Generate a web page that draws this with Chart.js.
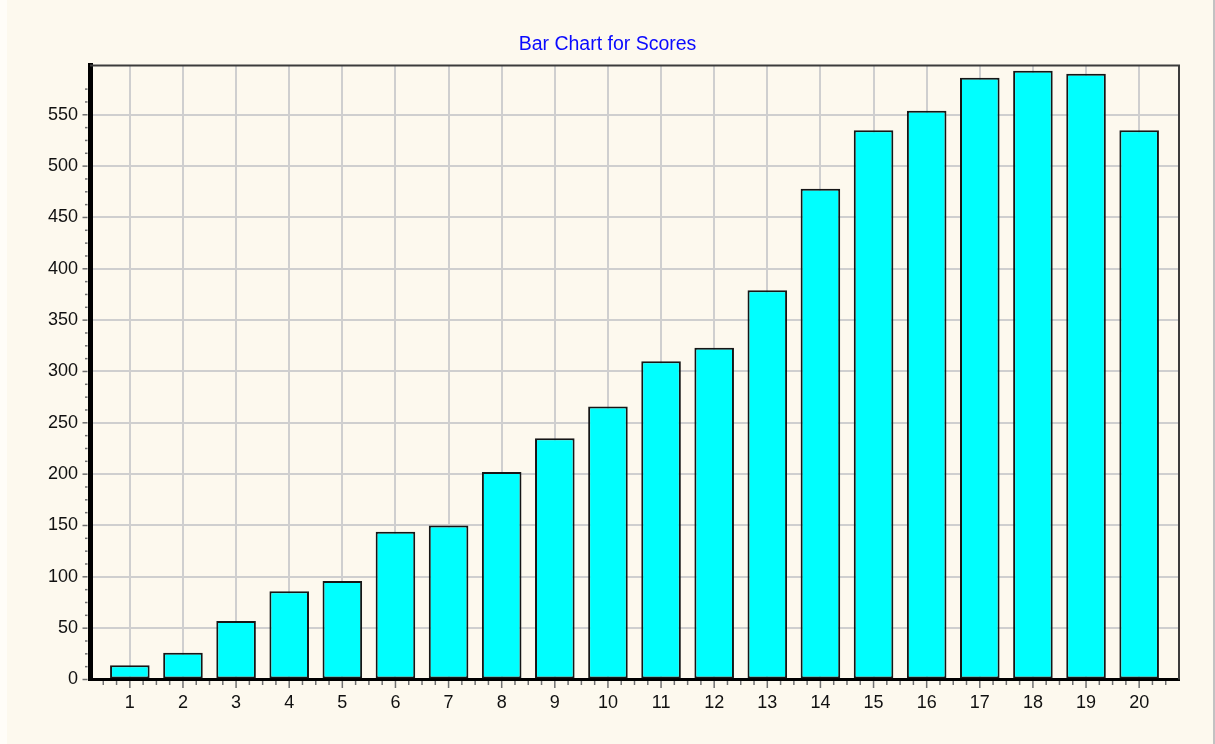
<!DOCTYPE html>
<html>
<head>
<meta charset="utf-8">
<script src="https://cdn.jsdelivr.net/npm/chart.js@4.4.0/dist/chart.umd.min.js"></script>
<style>
  html, body { margin: 0; padding: 0; background: #fdf9ee; }
  #wrap { position: relative; width: 1215px; height: 744px; background: #fdf9ee; overflow: hidden; }
  #wrap canvas { position: absolute; left: 0; top: 0; }
  #edgeR { position: absolute; left: 1213px; top: 0; width: 2px; height: 744px; background: #c2c2c2; }
  #edgeL { position: absolute; left: 0; top: 0; width: 7px; height: 744px; background: #fffdf8; }
</style>
</head>
<body>
<div id="wrap">
  <canvas id="c" width="1215" height="744"></canvas>
  <div id="edgeL"></div>
  <div id="edgeR"></div>
</div>
<script>
// ---- data ----
const categories = ['1','2','3','4','5','6','7','8','9','10','11','12','13','14','15','16','17','18','19','20'];
const scores = [14, 26, 57, 86, 96, 144, 150, 202, 235, 266, 310, 323, 379, 478, 535, 554, 586, 593, 590, 535];
const titleText = 'Bar Chart for Scores';
const yMin = 0;
const yMax = 598;
const yMajorStep = 50;
const yMinorStep = 12.5;
const xMin = 0.25;
const xMax = 20.75;
const xMinorStep = 0.25;

// ---- styles ----
const FONT = '"Liberation Sans", Arial, sans-serif';
const gridColor = '#cfcfcf';
const none = 'rgba(0,0,0,0)';

function isInt(v) { return Math.abs(v - Math.round(v)) < 1e-6; }
function isXMajor(v) { return isInt(v) && v >= 1 && v <= categories.length; }
function isYMajor(v) { return Math.abs(v / yMajorStep - Math.round(v / yMajorStep)) < 1e-6; }
function isYMinor(v) { return Math.abs(v / yMinorStep - Math.round(v / yMinorStep)) < 1e-6; }

const frameAndTicks = {
  id: 'frameAndTicks',
  afterDraw(chart) {
    const { ctx, chartArea: a, scales: { x, y } } = chart;
    ctx.save();
    // top and right frame
    ctx.strokeStyle = '#3c3c3c';
    ctx.lineWidth = 2;
    ctx.beginPath();
    ctx.moveTo(a.left, a.top);
    ctx.lineTo(a.right, a.top);
    ctx.lineTo(a.right, a.bottom);
    ctx.stroke();
    // y tick marks
    ctx.strokeStyle = '#707070';
    ctx.lineWidth = 1.5;
    y.ticks.forEach(t => {
      if (!isYMinor(t.value)) return;
      const p = y.getPixelForValue(t.value);
      const len = isYMajor(t.value) ? 5 : 2.5;
      ctx.beginPath();
      ctx.moveTo(a.left - 2.5, p);
      ctx.lineTo(a.left - 2.5 - len, p);
      ctx.stroke();
    });
    // x tick marks (major at categories, minor every quarter)
    const n = Math.round((xMax - xMin) / xMinorStep);
    for (let i = 1; i < n; i++) {
      const v = xMin + i * xMinorStep;
      const p = x.getPixelForValue(v);
      const len = isXMajor(v) ? 7 : 4;
      ctx.beginPath();
      ctx.moveTo(p, a.bottom + 1.5);
      ctx.lineTo(p, a.bottom + 1.5 + len);
      ctx.stroke();
    }
    ctx.restore();
  }
};

new Chart(document.getElementById('c'), {
  type: 'bar',
  data: {
    labels: categories,
    datasets: [{
      data: scores,
      backgroundColor: '#00ffff',
      borderColor: '#161616',
      borderWidth: 2,
      borderSkipped: false,
      barPercentage: 0.745,
      categoryPercentage: 1.0
    }]
  },
  options: {
    responsive: false,
    animation: false,
    events: [],
    layout: { padding: 0 },
    plugins: {
      legend: { display: false },
      tooltip: { enabled: false },
      title: {
        display: true,
        text: titleText,
        color: '#0a0aff',
        font: { family: FONT, size: 19.5, weight: 'normal' },
        padding: { top: 33, bottom: 9.1 }
      }
    },
    scales: {
      x: {
        type: 'linear',
        offset: false,
        min: xMin,
        max: xMax,
        afterFit(scale) { scale.height = 64.5; },
        border: { display: true, color: '#000000', width: 3 },
        grid: {
          offset: false,
          drawTicks: false,
          lineWidth: 2,
          color: (c) => (c.tick && isXMajor(c.tick.value)) ? gridColor : none
        },
        ticks: {
          stepSize: 1,
          includeBounds: false,
          autoSkip: false,
          maxRotation: 0,
          padding: 13,
          color: '#111111',
          font: { family: FONT, size: 18 },
          callback: (v) => isXMajor(v) ? categories[Math.round(v) - 1] : ''
        }
      },
      y: {
        min: yMin,
        max: yMax,
        afterFit(scale) { scale.width = 90; },
        border: { display: true, color: '#000000', width: 5 },
        grid: {
          drawTicks: false,
          lineWidth: 2,
          color: (c) => (c.tick && isYMajor(c.tick.value) && c.tick.value > 0) ? gridColor : none
        },
        ticks: {
          stepSize: yMinorStep,
          autoSkip: false,
          padding: 12,
          color: '#111111',
          font: { family: FONT, size: 18 },
          callback: (v) => isYMajor(v) ? String(v) : ''
        }
      },
      yRight: {
        position: 'right',
        min: yMin,
        max: yMax,
        afterFit(scale) { scale.width = 36; },
        border: { display: false },
        grid: { display: false, drawTicks: false },
        ticks: { display: false }
      }
    }
  },
  plugins: [frameAndTicks]
});
</script>
</body>
</html>
